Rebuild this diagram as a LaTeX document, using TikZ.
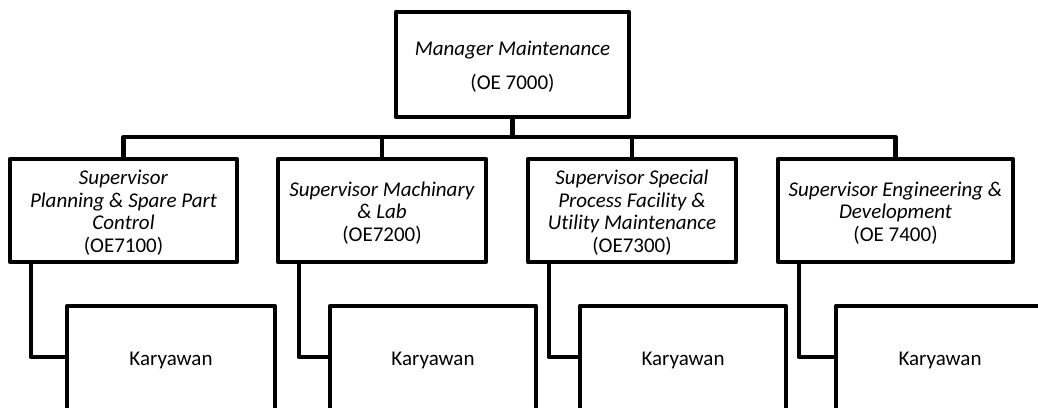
\documentclass[tikz,border=0pt]{standalone}
\usepackage{fontspec}
\setmainfont{Carlito}[Ligatures=NoCommon]
% centred block of lines, set a little lower in its box (box size kept)
\newcommand{\lowblock}[1]{\raisebox{-3.5pt}[\height][\depth]{\begin{tabular}{@{}c@{}}#1\end{tabular}}}
\begin{document}
\begin{tikzpicture}[x=1pt,y=-1pt,
  box/.style={draw,line width=4.5pt,line join=round,inner sep=0pt,
    font=\fontsize{21}{22.5}\selectfont},
  link/.style={line width=4.5pt,line join=round}]
\useasboundingbox (0,0) rectangle (1038,407);
\clip (0,0) rectangle (1038,407);

% manager
\node[box,minimum width=233pt,minimum height=105pt] (mgr) at (512.5,64.5)
  {\lowblock{\textit{Manager Maintenance}\\[11.5pt](OE 7000)}};

% supervisors
\node[box,minimum width=227pt,minimum height=103pt] (s1) at (123.5,210.5)
  {\lowblock{\textit{Supervisor}\\\textit{Planning \& Spare Part}\\\textit{Control}\\(OE7100)}};
\node[box,minimum width=208pt,minimum height=103pt] (s2) at (382,210.5)
  {\lowblock{\textit{Supervisor Machinary}\\\textit{\& Lab}\\(OE7200)}};
\node[box,minimum width=208pt,minimum height=103pt] (s3) at (632,210.5)
  {\lowblock{\textit{Supervisor Special}\\\textit{Process Facility \&}\\\textit{Utility Maintenance}\\(OE7300)}};
\node[box,minimum width=235pt,minimum height=103pt] (s4) at (895.5,210.5)
  {\lowblock{\textit{Supervisor Engineering \&}\\\textit{Development}\\(OE 7400)}};

% staff
\node[box,minimum width=208pt,minimum height=108pt] (k1) at (171,360) {Karyawan};
\node[box,minimum width=206pt,minimum height=108pt] (k2) at (433,360) {Karyawan};
\node[box,minimum width=206pt,minimum height=108pt] (k3) at (683,360) {Karyawan};
\node[box,minimum width=208pt,minimum height=108pt] (k4) at (940,360) {Karyawan};

% bus
\coordinate (bus) at (512.5,137);
\draw[link] (mgr.south) -- (bus);
\draw[link] (s1.north) |- (bus) -| (s4.north);
\draw[link] (s2.north) -- (s2.north |- bus);
\draw[link] (s3.north) -- (s3.north |- bus);

% supervisor to staff
\foreach \i in {1,2,3,4}
  \draw[link] ([xshift=23pt]s\i.south west) |- ([yshift=3pt]k\i.west);
\end{tikzpicture}
\end{document}
